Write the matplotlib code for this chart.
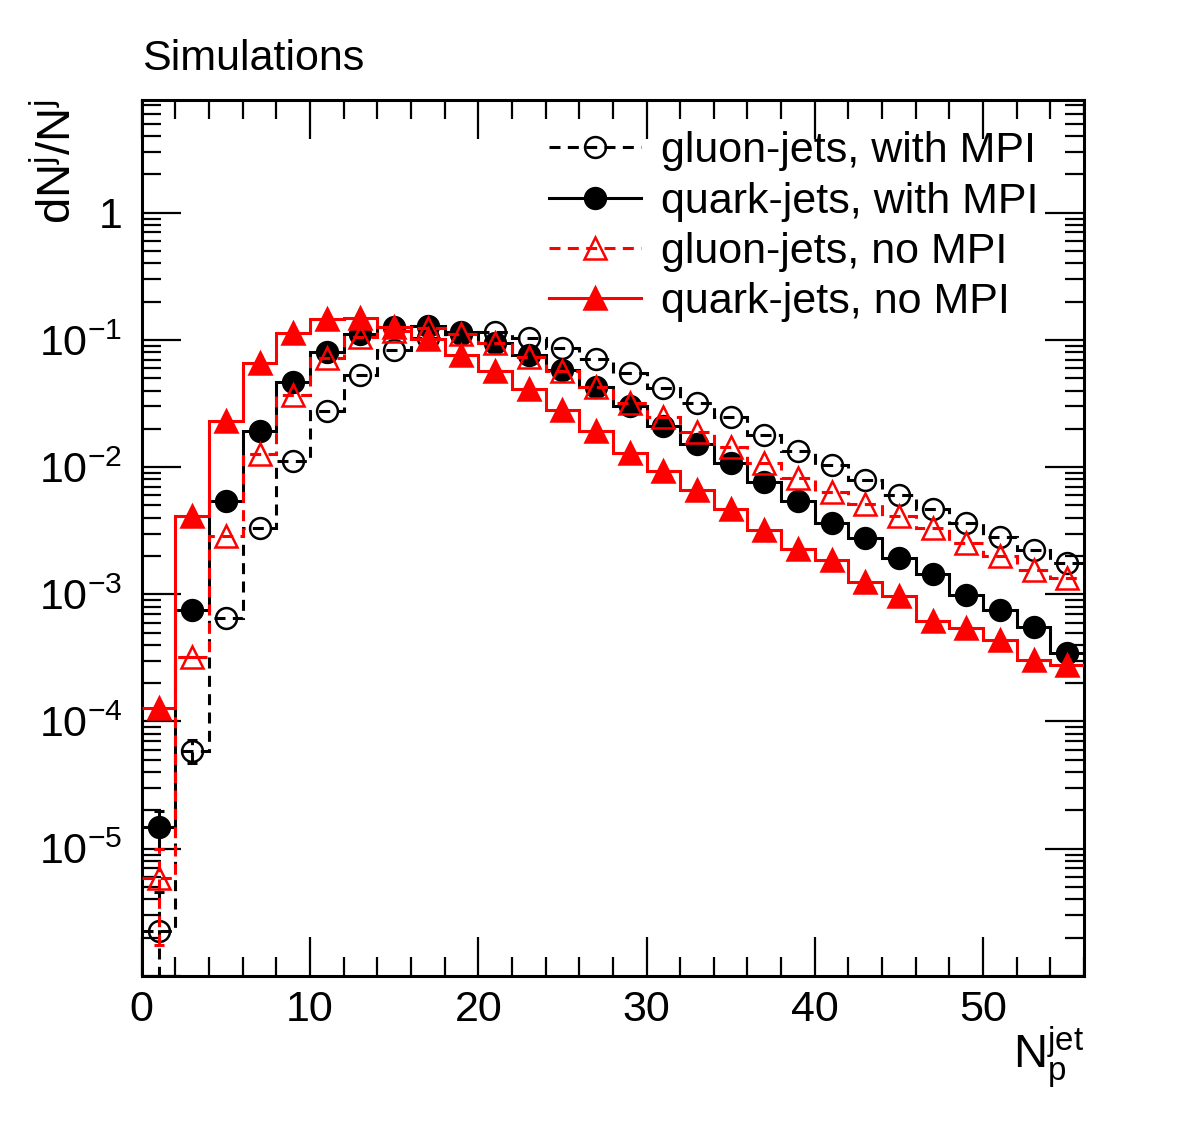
import numpy as np
import matplotlib
matplotlib.use("Agg")
import matplotlib.pyplot as plt
from matplotlib.lines import Line2D
from matplotlib.ticker import LogLocator, FixedLocator, MultipleLocator, NullFormatter

plt.rcParams['font.family'] = ['Liberation Sans', 'DejaVu Sans']
plt.rcParams['mathtext.fontset'] = 'custom'
plt.rcParams['mathtext.rm'] = 'Liberation Sans'
plt.rcParams['mathtext.it'] = 'Liberation Sans'
plt.rcParams['mathtext.default'] = 'regular'

# bin edges: 0..56 in steps of 2, centres 1..55
edges = np.arange(0, 57, 2)
centres = edges[:-1] + 1

gluon_mpi = [2.27e-6, 5.9e-5, 6.49e-4, 3.31e-3, 0.0112, 0.0278, 0.053, 0.083, 0.104, 0.112,
             0.116, 0.103, 0.086, 0.0705, 0.0547, 0.0417, 0.0318, 0.0247, 0.0179, 0.0134,
             0.0104, 0.0079, 0.0060, 0.00467, 0.00366, 0.00284, 0.00221, 0.00176]
quark_mpi = [1.49e-5, 7.54e-4, 5.42e-3, 0.0193, 0.047, 0.081, 0.112, 0.126, 0.128, 0.116,
             0.095, 0.076, 0.058, 0.0425, 0.0303, 0.0211, 0.0152, 0.0107, 0.0077, 0.0054,
             0.00366, 0.00276, 0.00192, 0.00145, 0.00099, 0.00075, 0.000557, 0.000344]
gluon_nompi = [5.86e-6, 3.24e-4, 2.88e-3, 0.0127, 0.037, 0.0718, 0.106, 0.118, 0.124, 0.112,
               0.095, 0.074, 0.057, 0.0425, 0.0321, 0.0249, 0.019, 0.0145, 0.0107, 0.0082,
               0.0064, 0.00514, 0.00413, 0.00331, 0.00252, 0.0020, 0.00156, 0.00134]
quark_nompi = [1.28e-4, 4.13e-3, 0.0231, 0.0656, 0.114, 0.146, 0.150, 0.127, 0.102, 0.076,
               0.057, 0.041, 0.0282, 0.0193, 0.0130, 0.00933, 0.00662, 0.00469, 0.0032, 0.00227,
               0.00185, 0.00124, 0.00097, 0.000618, 0.000547, 0.000438, 0.000305, 0.000277]

# visible error bars (first two bins only), lower / upper
gluon_mpi_err_lo = [2.26e-6, 1.2e-5]
gluon_mpi_err_hi = [2.27e-6, 1.2e-5]
quark_mpi_err = [0.49e-5, 0.0]
gluon_nompi_err = [4.1e-6, 0.0]

labels = ['gluon-jets, with MPI', 'quark-jets, with MPI',
          'gluon-jets, no MPI', 'quark-jets, no MPI']

dash = (0, (3.6, 2.4))
lw = 2.2
ms = 15

series = [
    (gluon_mpi, 'black', dash, 'o', 'none', gluon_mpi_err_lo, gluon_mpi_err_hi),
    (quark_mpi, 'black', '-', 'o', 'black', quark_mpi_err, quark_mpi_err),
    (gluon_nompi, 'red', dash, '^', 'none', gluon_nompi_err, gluon_nompi_err),
    (quark_nompi, 'red', '-', '^', 'red', None, None),
]

fig = plt.figure(figsize=(11.82, 11.23), dpi=100)
ax = fig.add_axes([0.1199, 0.131, 0.7972, 0.780])

handles = []
for i, (vals, col, ls, mk, mfc, elo, ehi) in enumerate(series):
    z = 2 + i
    msz = ms if mk == 'o' else ms + 1
    ax.stairs(vals, edges, baseline=None, color=col, linestyle=ls, linewidth=lw, zorder=z)
    if elo is not None:
        eb = ax.errorbar(centres[:2], vals[:2], yerr=[elo, ehi], fmt='none', ecolor=col,
                         elinewidth=lw, capsize=3.3, capthick=lw, zorder=z)
        for lc in eb[2]:
            lc.set_linestyle(ls)
    ax.plot(centres, vals, linestyle='none', marker=mk, markersize=msz,
            markerfacecolor=mfc, markeredgecolor=col, markeredgewidth=1.8, zorder=z + 0.5)
    handles.append(Line2D([], [], color=col, linestyle=ls, linewidth=lw, marker=mk,
                          markersize=msz, markerfacecolor=mfc,
                          markeredgecolor=col, markeredgewidth=1.8))

ax.set_yscale('log')
ax.set_xlim(0, 56)
ax.set_ylim(1e-6, 7.7)

ax.yaxis.set_major_locator(FixedLocator([1e-6, 1e-5, 1e-4, 1e-3, 1e-2, 1e-1, 1]))
ax.yaxis.set_minor_locator(LogLocator(base=10, subs=np.arange(2, 10), numticks=20))
ax.yaxis.set_minor_formatter(NullFormatter())
ylabels = ['', r'$10^{-5}$', r'$10^{-4}$', r'$10^{-3}$', r'$10^{-2}$', r'$10^{-1}$', '1']
ax.set_yticklabels(ylabels)
ax.xaxis.set_major_locator(MultipleLocator(10))
ax.xaxis.set_minor_locator(MultipleLocator(2))

ax.tick_params(which='both', direction='in', top=True, right=True, width=1.6, labelsize=31)
ax.tick_params(which='major', length=28)
ax.tick_params(which='minor', length=14)
ax.tick_params(axis='y', pad=14)
ax.tick_params(axis='x', pad=10)
for sp in ax.spines.values():
    sp.set_linewidth(2.2)

fig.text(0.049, 0.911, r'dN$^{j}$/N$^{j}$', rotation=90, ha='center', va='top', fontsize=34)
fig.text(0.917, 0.088, r'$N_{p}^{jet}$', ha='right', va='top', fontsize=34)
fig.text(0.12, 1 - 70 / 1123, 'Simulations', ha='left', va='baseline', fontsize=31)

ax.legend(handles, labels, loc='upper left', bbox_to_anchor=(0.432, 0.964), frameon=False,
          fontsize=31, handlelength=2.15, handletextpad=0.45, labelspacing=0.24,
          borderaxespad=0.0, borderpad=0.0)

fig.savefig('out.png', dpi=100)
